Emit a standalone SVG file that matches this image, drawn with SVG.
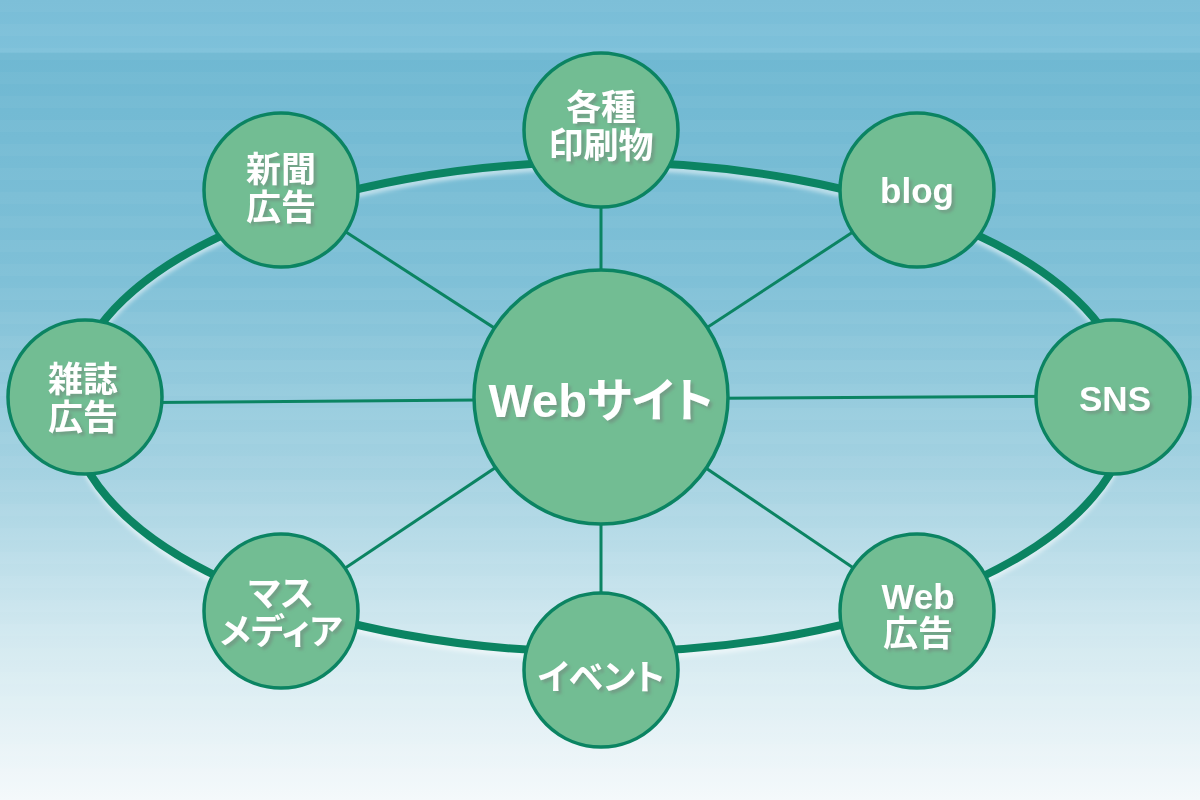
<svg xmlns="http://www.w3.org/2000/svg" width="1200" height="800" viewBox="0 0 1200 800">
<defs>
<linearGradient id="bg" x1="0" y1="0" x2="0" y2="1">
<stop offset="0" stop-color="#79bdd7"/>
<stop offset="0.065" stop-color="#7ec1da"/>
<stop offset="0.067" stop-color="#6fb8d2"/>
<stop offset="0.35" stop-color="#7fc0d7"/>
<stop offset="0.6" stop-color="#a6d3e2"/>
<stop offset="0.8" stop-color="#d3e9f0"/>
<stop offset="1" stop-color="#f4f9fb"/>
</linearGradient>
<pattern id="stripes" width="1200" height="24" patternUnits="userSpaceOnUse">
<rect x="0" y="0" width="1200" height="12" fill="#ffffff" opacity="0.03"/>
</pattern>
<filter id="ts" x="-20%" y="-20%" width="140%" height="140%">
<feDropShadow dx="3" dy="3" stdDeviation="1.5" flood-color="#6f7f78" flood-opacity="0.5"/>
</filter>
<filter id="glow" x="-10%" y="-10%" width="120%" height="120%">
<feGaussianBlur stdDeviation="2"/>
</filter>
</defs>
<style>
.node circle{fill:#72bd93;stroke:#0b8462;stroke-width:3.5}
.lbl{fill:#ffffff;font-family:"Liberation Sans","Noto Sans CJK JP",sans-serif;font-weight:bold;font-size:35px;text-anchor:middle;filter:url(#ts);font-feature-settings:"palt"}
.big{font-size:47px}
.spoke{stroke:#0b8462;stroke-width:3;fill:none}
</style>
<rect x="0" y="0" width="1200" height="800" fill="url(#bg)"/>
<rect x="0" y="0" width="1200" height="800" fill="url(#stripes)"/>
<g id="connectors">
<ellipse cx="600" cy="412" rx="530" ry="245" fill="none" stroke="#ffffff" stroke-opacity="0.55" stroke-width="6" filter="url(#glow)"/>
<ellipse cx="600" cy="407" rx="530" ry="245" fill="none" stroke="#0b8462" stroke-width="8"/>
<line class="spoke" x1="601" y1="130" x2="601" y2="397"/>
<line class="spoke" x1="601" y1="397" x2="601" y2="670"/>
<line class="spoke" x1="281" y1="190" x2="601" y2="397"/>
<line class="spoke" x1="917" y1="190" x2="601" y2="397"/>
<line class="spoke" x1="281" y1="611" x2="601" y2="397"/>
<line class="spoke" x1="917" y1="611" x2="601" y2="397"/>
<line class="spoke" x1="85" y1="403" x2="601" y2="399"/>
<line class="spoke" x1="1113" y1="396" x2="601" y2="399"/>
</g>
<g id="center" class="node"><circle cx="601" cy="397" r="127"/><text class="lbl big" x="601" y="417">Webサイト</text></g>
<g id="insatsu" class="node"><circle cx="601" cy="130" r="77"/><text class="lbl" x="601" y="120">各種</text><text class="lbl" x="601" y="158">印刷物</text></g>
<g id="shinbun" class="node"><circle cx="281" cy="190" r="77"/><text class="lbl" x="281" y="182">新聞</text><text class="lbl" x="281" y="220">広告</text></g>
<g id="blog" class="node"><circle cx="917" cy="190" r="77"/><text class="lbl" x="917" y="203">blog</text></g>
<g id="zasshi" class="node"><circle cx="85" cy="397" r="77"/><text class="lbl" x="83" y="392">雑誌</text><text class="lbl" x="83" y="430">広告</text></g>
<g id="sns" class="node"><circle cx="1113" cy="397" r="77"/><text class="lbl" x="1115" y="411">SNS</text></g>
<g id="mass" class="node"><circle cx="281" cy="611" r="77"/><text class="lbl" x="281" y="606">マス</text><text class="lbl" x="281" y="644">メディア</text></g>
<g id="webad" class="node"><circle cx="917" cy="611" r="77"/><text class="lbl" x="918" y="609">Web</text><text class="lbl" x="918" y="646">広告</text></g>
<g id="event" class="node"><circle cx="601" cy="670" r="77"/><text class="lbl" x="601" y="690">イベント</text></g>
</svg>
